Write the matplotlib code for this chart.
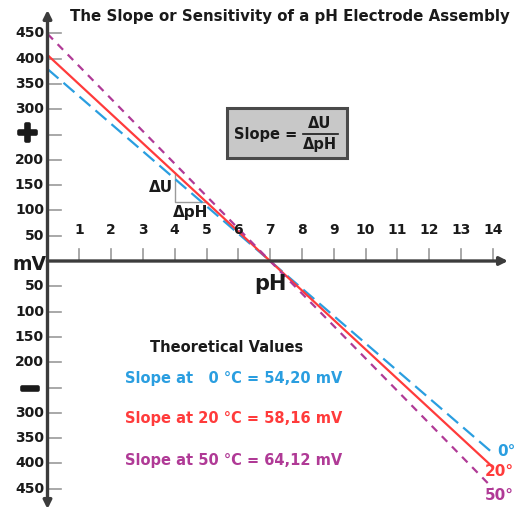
"""Slope / sensitivity of a pH electrode assembly (recreation)."""
import numpy as np
import matplotlib

matplotlib.use("Agg")
import matplotlib.pyplot as plt
import matplotlib.patheffects as pe
from matplotlib.patches import FancyBboxPatch

plt.rcParams["font.family"] = ["DejaVu Sans"]
plt.rcParams["font.weight"] = "bold"

# data
temps = [0, 20, 50]
slopes = [54.20, 58.16, 64.12]          # mV per pH unit
ph_ticks = list(range(1, 15))
mv_ticks = [50, 100, 150, 200, 250, 300, 350, 400, 450]
mv_labels = ["50", "100", "150", "200", "+", "300", "350", "400", "450"]
mv_labels_neg = ["50", "100", "150", "200", "\u2014", "300", "350", "400", "450"]
iso_ph = 7.0

BLUE = "#2a9ee0"
RED = "#ff3b3b"
MAGENTA = "#b03a96"
colors = [BLUE, RED, MAGENTA]
dashes = [(6.5, 3), (None, None), (3.5, 3)]
INK = "#1a1a1a"
AXIS = "#3c3c3c"
TICK = "#9a9a9a"

W, H = 515, 517
fig = plt.figure(figsize=(W / 100, H / 100), dpi=100)
ax = fig.add_axes([0, 0, 1, 1])

# pixel geometry of the original: origin at (47.5, 261), 31.8 px / pH, 0.506 px / mV
X0, Y0, SX, SY = 47.5, 261.0, 31.8, 0.506
ax.set_xlim(-X0 / SX, (W - X0) / SX)
ax.set_ylim(-(H - Y0) / SY, Y0 / SY)
ax.axis("off")


def fx(px):
    return px / W


def fy(py):
    return 1 - py / H


# electrode lines
ph = np.array([0.0, 14.0])
for slope, col, d in zip(slopes, colors, dashes):
    mv = slope * (iso_ph - ph)
    if d[0] is None:
        ax.plot(ph, mv, color=col, lw=1.6, zorder=3)
    else:
        ax.plot(ph, mv, color=col, lw=1.6, dashes=d, zorder=3)

# axes with arrows
ymax = (Y0 - 10) / SY
ymin = -(509 - Y0) / SY
xmax = (508 - X0) / SX
arrow = dict(arrowstyle="-|>", color=AXIS, lw=2.4, mutation_scale=12, shrinkA=0, shrinkB=0)
ax.annotate("", xy=(0, ymax), xytext=(0, 0), arrowprops=arrow)
ax.annotate("", xy=(0, ymin), xytext=(0, 0), arrowprops=arrow)
ax.annotate("", xy=(xmax, 0), xytext=(0, 0), arrowprops=arrow)

# y ticks (both signs) and labels
tick_len = 13 / SX
for v, lp, ln in zip(mv_ticks, mv_labels, mv_labels_neg):
    for sign, lab in ((1, lp), (-1, ln)):
        ax.plot([0, tick_len], [sign * v, sign * v], color=TICK, lw=1.2, zorder=2)
        if lab == "+":
            ax.text(-20 / SX, sign * v + 1 / SY, lab, ha="center", va="center", fontsize=19, color=INK,
                    path_effects=[pe.withStroke(linewidth=2.6, foreground=INK)])
        elif lab == "\u2014":
            ax.text(-17.5 / SX, sign * v - 1 / SY, lab, ha="center", va="center", fontsize=13, color=INK,
                    path_effects=[pe.withStroke(linewidth=2.6, foreground=INK)])
        else:
            ax.text(-3.5 / SX, sign * v, lab, ha="right", va="center", fontsize=10, color=INK)

# x ticks and labels
for p in ph_ticks:
    ax.plot([p, p], [0, 12 / SY], color=TICK, lw=1.2, zorder=2)
    ax.text(p, 31 / SY, str(p), ha="center", va="center", fontsize=10, color=INK)

ax.text(-1 / SX, -4 / SY, "mV", ha="right", va="center", fontsize=13.5, color=INK)
ax.text(iso_ph, -23 / SY, "pH", ha="center", va="center", fontsize=15, color=INK)

# slope triangle on the 20 degC line
s20 = slopes[1]
ax.plot([4, 4, 5], [s20 * 3, s20 * 2, s20 * 2], color=TICK, lw=1.0, zorder=2)
fig.text(fx(173), fy(187), "\u0394U", ha="right", va="center", fontsize=11, color=INK)
fig.text(fx(191), fy(212), "\u0394pH", ha="center", va="center", fontsize=11, color=INK)

fig.text(fx(290), fy(17), "The Slope or Sensitivity of a pH Electrode Assembly", ha="center", va="center",
         fontsize=10.8, color=INK)

# formula box
ax_box = fig.add_axes([0, 0, 1, 1], facecolor="none")
ax_box.set_xlim(0, W)
ax_box.set_ylim(H, 0)
ax_box.axis("off")
ax_box.add_patch(FancyBboxPatch((227, 108), 120, 50, boxstyle="square,pad=0", fc="#c8c8c8", ec="#4a4a4a", lw=2.2))
ax_box.text(266, 134, "Slope =", ha="center", va="center", fontsize=10.5, color=INK)
ax_box.text(320, 123, "\u0394U", ha="center", va="center", fontsize=10.5, color=INK)
ax_box.plot([303, 338], [133.5, 133.5], color=INK, lw=1.2)
ax_box.text(320, 145, "\u0394pH", ha="center", va="center", fontsize=10.5, color=INK)

# theoretical values
fig.text(fx(227), fy(347), "Theoretical Values", ha="center", va="center", fontsize=10.5, color=INK)
for i, (t, s, col) in enumerate(zip(temps, slopes, colors)):
    y = 378 + 41 * i
    t_txt = f"{t:>2d}".replace(" ", "  ")
    line = f"Slope at {t_txt} \u00b0C = " + f"{s:.2f}".replace(".", ",") + " mV"
    fig.text(fx(125), fy(y), line, ha="left", va="center", fontsize=10.5, color=col)

# end labels at pH 14 (the original cuts them at the right edge)
end_pos = [(497, 452), (485, 472), (485, 495)]
for t, col, (px, py) in zip(temps, colors, end_pos):
    fig.text(fx(px), fy(py), f"{t}\u00b0", ha="left", va="center", fontsize=11, color=col)

fig.savefig("out.png", dpi=100, facecolor="white")
